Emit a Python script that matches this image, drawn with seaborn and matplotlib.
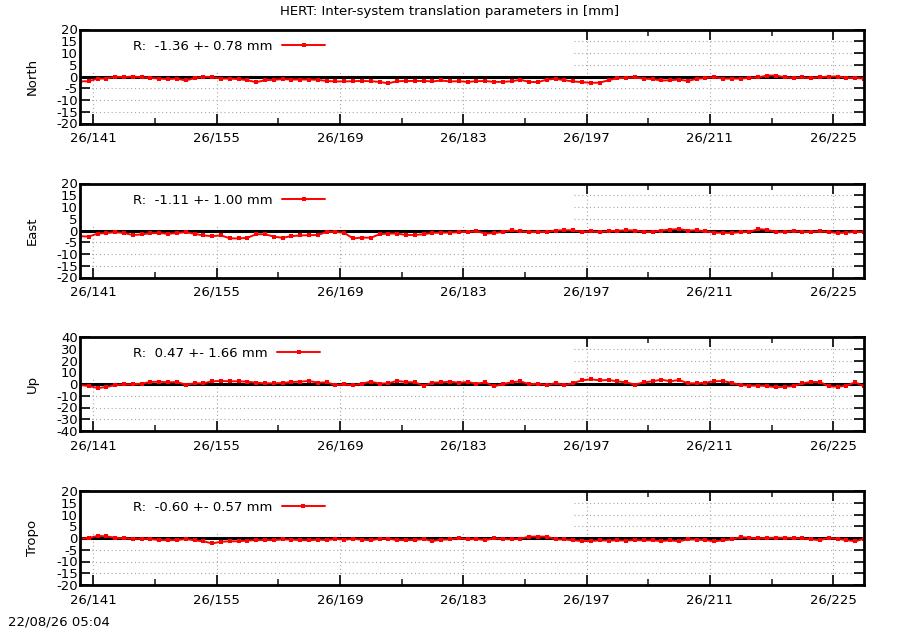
import numpy as np
import pandas as pd
import matplotlib
matplotlib.use("Agg")
import matplotlib.pyplot as plt
from matplotlib.patches import Rectangle
from matplotlib.ticker import FixedLocator
import seaborn as sns

sns.set_theme(style="white")
plt.rcParams['font.family'] = ['DejaVu Sans']
plt.rcParams['text.color'] = 'black'
plt.rcParams['axes.labelcolor'] = 'black'

# ---- data ----
days = [139.5 + i for i in range(90)]

north = [-2.1, -2.0, -0.9, -0.9, -0.1, -0.3, 0.0, -0.4, -0.6, -0.9,
         -1.1, -0.9, -1.7, -0.7, -0.1, -0.3, -0.9, -0.9, -1.1, -1.6,
         -2.4, -1.6, -1.4, -1.1, -1.3, -1.3, -1.3, -1.4, -1.9, -2.1,
         -2.1, -2.0, -1.9, -2.0, -2.3, -2.9, -2.0, -1.9, -1.9, -1.9,
         -2.1, -1.7, -2.1, -2.0, -2.3,
         -2.0, -1.9, -2.3, -2.3, -2.0, -1.4, -2.3, -2.4, -1.3, -1.0,
         -1.6, -2.1, -2.4, -2.7, -2.6, -1.6, -0.7, -0.6, -0.4, -0.9,
         -1.1, -1.7, -1.6, -1.3, -1.9, -1.0, -0.6, -0.3, -0.9, -0.9,
         -0.9, -0.6, -0.4, 0.4, 0.4, -0.3, -0.7, -0.4, -0.7, -0.3,
         0.0, 0.0, -0.6, -0.6, -0.9]

east = [-2.4, -2.6, -1.3, -1.1, -0.7, -1.1, -1.9, -1.7, -1.1, -1.1,
        -1.4, -1.1, -0.7, -1.4, -2.1, -2.4, -2.1, -3.3, -3.4, -3.1,
        -1.6, -1.6, -2.6, -3.1, -2.4, -2.1, -2.0, -1.9, -0.6, -0.6,
        -1.0, -3.4, -3.0, -3.1, -1.6, -1.3, -1.3, -1.9, -1.9, -1.6,
        -1.0, -0.9, -0.9, -0.7, -0.6,
        -0.3, -1.3, -1.1, -0.6, 0.1, -0.4, -0.7, -0.6, -0.6, 0.0,
        0.1, 0.1, -0.7, -0.4, -0.7, -0.3, -0.1, 0.1, 0.0, -0.6,
        -0.6, 0.0, 0.4, 0.6, 0.0, 0.1, -0.4, -0.9, -1.0, -1.0,
        -0.7, -0.6, 0.6, 0.3, -0.7, -0.7, -0.3, -0.6, -0.6, -0.4,
        -0.6, -1.1, -0.9, -0.6, -0.7]

up = [-0.9, -1.7, -3.4, -2.6, -0.9, -0.3, -0.3, 0.3, 1.7, 2.0,
      1.4, 1.7, -0.6, 0.6, 0.6, 2.3, 2.6, 2.3, 2.3, 2.0,
      1.1, 0.6, 0.6, 0.9, 1.7, 2.0, 2.6, 1.1, 1.4, -0.9,
      -0.3, -1.1, 0.3, 2.0, 0.3, 0.6, 2.6, 1.7, 1.4, -1.4,
      1.1, 1.4, 2.0, 1.1, 1.7,
      0.3, 1.4, -2.0, 0.0, 1.4, 2.3, -0.3, 0.3, -1.1, 0.9,
      -1.1, 0.9, 3.1, 4.0, 3.1, 3.4, 2.3, 1.4, -0.6, 1.4,
      2.3, 3.7, 2.3, 3.4, 0.6, 0.6, 1.1, 2.3, 2.6, 0.9,
      -0.9, -1.4, -1.4, -1.7, -2.9, -2.3, -1.7, 0.6, 1.7, 1.7,
      -2.0, -2.3, -1.4, 1.4, -2.0]

tropo = [-0.3, 0.0, 0.9, 0.7, 0.1, -0.1, -0.3, -0.3, -0.4, -0.9,
         -0.9, -0.9, -0.4, -1.0, -1.4, -2.3, -1.6, -1.4, -1.4, -1.1,
         -0.9, -0.9, -0.9, -0.6, -0.7, -0.9, -1.0, -0.7, -0.9, -0.4,
         -0.7, -0.4, -0.7, -1.0, -0.3, -0.3, -0.9, -0.9, -0.9, -0.4,
         -1.3, -0.7, -0.6, 0.0, -0.6,
         -0.4, -0.9, -0.1, -0.4, -0.6, -0.3, 0.6, 0.6, 0.6, -0.6,
         -0.6, -1.0, -1.3, -1.3, -1.0, -1.1, -1.0, -1.1, -0.9, -1.0,
         -1.0, -1.3, -1.0, -1.4, -0.6, -0.7, -0.9, -1.4, -1.0, -0.6,
         0.4, 0.1, -0.1, 0.0, 0.1, 0.1, 0.0, -0.1, -0.6, -0.9,
         0.1, -0.4, -0.9, -1.4, -0.3]

panel_names = ["North", "East", "Up", "Tropo"]
panel_series = [north, east, up, tropo]
panel_stats = ["R:  -1.36 +- 0.78 mm", "R:  -1.11 +- 1.00 mm",
               "R:  0.47 +- 1.66 mm", "R:  -0.60 +- 0.57 mm"]
panel_limits = [20, 20, 40, 20]
panel_steps = [5, 5, 10, 5]

xtick_days = [141, 155, 169, 183, 197, 211, 225]
xtick_labels = ["26/141", "26/155", "26/169", "26/183", "26/197", "26/211", "26/225"]
xminor_days = [148, 162, 176, 190, 204, 218]

title = "HERT: Inter-system translation parameters in [mm]"
stamp = "22/08/26 05:04"

# ---- figure ----
W, H = 900, 630
fig = plt.figure(figsize=(W / 100, H / 100), dpi=100)
fig.patch.set_facecolor("white")

ax_left, ax_right = 80, 864
tops = [29.5, 183.5, 337, 491]
ph = 94
fs = 9.5

for name, vals, stat, lim, step, top in zip(panel_names, panel_series, panel_stats,
                                             panel_limits, panel_steps, tops):
    ax = fig.add_axes([ax_left / W, 1 - (top + ph) / H, (ax_right - ax_left) / W, ph / H])
    ax.set_facecolor("white")
    df = pd.DataFrame({"day": days, "val": vals})

    ax.set_xlim(139.5, 228.5)
    ax.set_ylim(-lim, lim)

    # grid
    for xd in xtick_days:
        ax.axvline(xd, color="#a8a8a8", lw=0.8, ls=(0, (1, 2.5)), zorder=0.5)
    for yv in np.arange(-lim + step, lim, step):
        if yv != 0:
            ax.axhline(yv, color="#a8a8a8", lw=0.8, ls=(0, (1, 2.5)), zorder=0.5)

    # opaque key box
    ax.add_patch(Rectangle((0, 1 - 40.5 / ph), (573 - ax_left) / (ax_right - ax_left), 40.5 / ph,
                           transform=ax.transAxes, facecolor="white", edgecolor="none",
                           zorder=0.8))

    ax.axhline(0, color="black", lw=2.2, zorder=1.5)

    sns.lineplot(data=df, x="day", y="val", ax=ax, color="#ff0000", lw=1.4,
                 marker="s", markersize=3.2, markeredgewidth=0, label=stat, zorder=3)

    ax.xaxis.set_major_locator(FixedLocator(xtick_days))
    ax.set_xticklabels(xtick_labels)
    ax.xaxis.set_minor_locator(FixedLocator(xminor_days))
    yt = np.arange(-lim, lim + 0.1, step)
    ax.set_yticks(yt)
    ax.set_yticklabels([str(int(v)) for v in yt])

    ax.tick_params(axis="both", which="major", direction="in", length=7, width=1.2,
                   top=True, right=True, bottom=True, left=True, labelsize=fs, colors="black")
    ax.tick_params(axis="x", which="minor", direction="in", length=4, width=1.2,
                   top=True, bottom=True)
    ax.tick_params(axis="x", which="major", pad=6)
    ax.tick_params(axis="y", which="major", pad=1.5)

    for s in ax.spines.values():
        s.set_visible(True)
        s.set_color("black")
        s.set_linewidth(2)
        s.set_zorder(4)

    ax.set_xlabel("")
    ax.set_ylabel(name, fontsize=fs, color="black")
    ax.yaxis.set_label_coords(-(ax_left - 39) / (ax_right - ax_left), 0.5)

    leg = ax.legend(loc="center left", bbox_to_anchor=((133 - ax_left) / (ax_right - ax_left),
                                                        1 - 16.5 / ph),
                    frameon=False, markerfirst=False, fontsize=fs, handlelength=3.3,
                    handletextpad=0.7, borderpad=0, borderaxespad=0, labelcolor="black")
    leg.set_zorder(5)

fig.text(0.5, 1 - 12 / H, title, ha="center", va="center", fontsize=fs, color="black")
fig.text(8 / W, 1 - 622 / H, stamp, ha="left", va="center", fontsize=fs, color="black")

fig.savefig("out.png", dpi=100, facecolor="white")
